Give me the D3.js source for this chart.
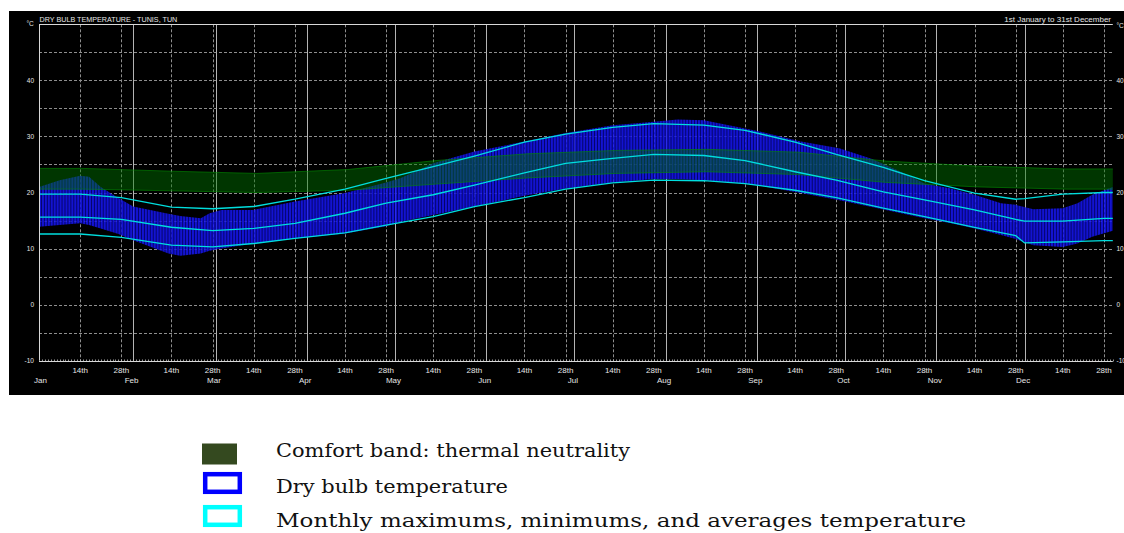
<!DOCTYPE html>
<html>
<head>
<meta charset="utf-8">
<script src="https://cdn.jsdelivr.net/npm/d3@7"></script>
<style>
  html, body { margin: 0; padding: 0; background: #ffffff; }
  svg { display: block; }
</style>
</head>
<body>
<svg id="chart" width="1124" height="533"></svg>
<script>
// ---- calendar ----
const monthNames  = ["Jan","Feb","Mar","Apr","May","Jun","Jul","Aug","Sep","Oct","Nov","Dec"];
const monthStarts = [0,31,59,90,120,151,181,212,243,273,304,334];   // days before each month
const dayMarks    = [14, 28];
const dayMarkLabels = ["14th", "28th"];
const tempLabels  = [-10, 0, 10, 20, 30, 40];
const tempGrid    = [-5, 0, 5, 10, 15, 20, 25, 30, 35, 40, 45];

// ---- comfort band (thermal neutrality), °C ----
const comfortDays = [0, 15, 45, 74, 105, 135, 166, 196, 227, 258, 288, 319, 349, 365];
const comfortLow  = [20.6, 20.6, 20.3, 20.0, 20.4, 21.5, 22.6, 23.4, 23.7, 23.2, 21.8, 21.0, 20.6, 20.6];
const comfortHigh = [24.3, 24.3, 23.8, 23.4, 24.1, 25.7, 26.9, 27.5, 27.7, 27.2, 25.6, 24.7, 24.2, 24.2];

// ---- dry bulb temperature, daily envelope, °C ----
const dryDays = [0, 7, 14, 17, 21, 27, 32, 44, 48, 55, 58, 62, 73, 87, 104, 118, 123, 134, 148, 165, 179,
                 195, 209, 217, 226, 240, 245, 259, 272, 283, 293, 301, 310, 318, 327, 332, 338, 348, 353, 358, 365];
const dryMax  = [21.0, 22.2, 23.0, 22.8, 21.0, 19.0, 17.5, 16.2, 15.8, 15.4, 16.3, 16.9, 16.9, 18.4, 19.9, 21.8, 22.6, 25.2, 27.3, 29.1, 30.6,
                 32.0, 32.6, 33.0, 32.9, 31.4, 30.9, 29.1, 27.9, 26.0, 23.7, 21.6, 20.7, 19.6, 18.1, 17.8, 17.0, 17.2, 18.1, 19.6, 21.0];
const dryMin  = [13.9, 14.2, 14.5, 14.2, 13.6, 12.6, 11.5, 9.1, 8.7, 9.1, 9.6, 10.0, 10.9, 11.8, 12.7, 14.0, 14.8, 16.0, 17.5, 19.4, 20.7,
                 21.8, 22.4, 22.4, 22.2, 21.6, 21.2, 19.9, 18.6, 17.4, 16.3, 15.4, 14.5, 13.6, 12.4, 11.7, 10.6, 10.3, 10.9, 12.1, 13.2];

// ---- monthly maximums, averages and minimums, °C ----
const statDays   = [0, 14, 28, 45, 59, 73, 87, 104, 118, 134, 148, 165, 179, 195, 209, 226, 240, 257, 271, 287, 301, 318, 332, 335, 348, 362, 365];
const monthlyMax = [19.7, 19.7, 19.1, 17.4, 17.1, 17.5, 18.8, 20.6, 22.5, 24.6, 26.5, 29.0, 30.4, 31.6, 32.3, 32.0, 31.1, 29.0, 26.8, 24.5, 22.1, 19.9, 18.8, 18.9, 19.7, 20.0, 20.0];
const monthlyAvg = [15.6, 15.6, 15.2, 13.8, 13.2, 13.6, 14.5, 16.3, 18.1, 19.6, 21.3, 23.5, 25.2, 26.1, 26.8, 26.6, 25.7, 23.7, 22.2, 20.1, 18.7, 16.9, 15.2, 14.9, 14.9, 15.4, 15.4];
const monthlyMin = [12.6, 12.6, 12.0, 10.6, 10.3, 10.9, 11.8, 12.8, 14.2, 15.7, 17.5, 19.1, 20.6, 21.7, 22.2, 22.1, 21.6, 20.4, 19.1, 17.2, 15.7, 13.8, 12.3, 11.0, 11.2, 11.4, 11.4];

// ---- text ----
const chartTitle = "DRY BULB TEMPERATURE - TUNIS, TUN";
const periodText = "1st January to 31st December";
const unitText   = "°C";
const legendItems = [
  { label: "Comfort band: thermal neutrality", kind: "fill",    color: "#34491f" },
  { label: "Dry bulb temperature",             kind: "outline", color: "#0000ff" },
  { label: "Monthly maximums, minimums, and averages temperature", kind: "outline", color: "#00ffff" }
];

// ---- layout ----
const svg = d3.select("#chart");
const x = d3.scaleLinear().domain([0, 365]).range([39, 1112.8]);
const y = d3.scaleLinear().domain([-10, 50]).range([360.7, 24.3]);
const crisp = v => Math.round(v) + 0.5;
const sans = "'Liberation Sans', Arial, sans-serif";

// dark panel
svg.append("rect").attr("x", 9).attr("y", 11).attr("width", 1115).attr("height", 384).attr("fill", "#000");

// daily stripes for the dry bulb band
const defs = svg.append("defs");
const step = x(1) - x(0);
const pat = defs.append("pattern").attr("id", "dailyStripes")
  .attr("patternUnits", "userSpaceOnUse").attr("x", x(0)).attr("y", 0)
  .attr("width", step).attr("height", 8);
pat.append("rect").attr("width", step).attr("height", 8).attr("fill", "#05057a");
pat.append("rect").attr("width", step * 0.66).attr("height", 8).attr("fill", "#1616f4");

// grid (drawn first; the translucent bands let it show through)
const grid = svg.append("g").attr("fill", "none");
grid.selectAll("line.h").data(tempGrid).join("line")
  .attr("x1", x(0)).attr("x2", x(365))
  .attr("y1", t => crisp(y(t))).attr("y2", t => crisp(y(t)))
  .attr("stroke", "#8e8e8e").attr("stroke-dasharray", "3,2");
const dayMarkRows = [];
monthStarts.forEach((s, m) => dayMarks.forEach((dm, j) => dayMarkRows.push({ d: s + dm, label: dayMarkLabels[j] })));
grid.selectAll("line.v").data(dayMarkRows).join("line")
  .attr("x1", r => crisp(x(r.d))).attr("x2", r => crisp(x(r.d)))
  .attr("y1", y(50)).attr("y2", y(-10))
  .attr("stroke", "#8e8e8e").attr("stroke-dasharray", "3,2");
grid.selectAll("line.m").data(monthStarts.slice(1)).join("line")
  .attr("x1", s => crisp(x(s + 1))).attr("x2", s => crisp(x(s + 1)))
  .attr("y1", y(50)).attr("y2", y(-10))
  .attr("stroke", "#b4b4b4");

const plot = svg.append("g");

// dry bulb envelope
const dryRows = dryDays.map((d, i) => ({ d, hi: dryMax[i], lo: dryMin[i] }));
plot.append("path").datum(dryRows)
  .attr("d", d3.area().x(r => x(r.d)).y0(r => y(r.lo)).y1(r => y(r.hi)))
  .attr("fill", "url(#dailyStripes)").attr("fill-opacity", 0.86);

// comfort band, translucent so the dry bulb band shows through
const comfortRows = comfortDays.map((d, i) => ({ d, lo: comfortLow[i], hi: comfortHigh[i] }));
plot.append("path").datum(comfortRows)
  .attr("d", d3.area().x(r => x(r.d)).y0(r => y(r.lo)).y1(r => y(r.hi)))
  .attr("fill", "rgb(0,120,0)").attr("fill-opacity", 0.45);
["lo", "hi"].forEach(k => {
  plot.append("path").datum(comfortRows)
    .attr("d", d3.line().x(r => x(r.d)).y(r => y(r[k])))
    .attr("fill", "none").attr("stroke", "rgb(0,140,0)").attr("stroke-opacity", 0.6).attr("stroke-width", 1);
});

// monthly statistic lines
const statLine = d3.line().x((v, i) => x(statDays[i])).y(v => y(v));
[monthlyMax, monthlyAvg, monthlyMin].forEach(series => {
  svg.append("path").datum(series)
    .attr("d", statLine)
    .attr("fill", "none").attr("stroke", "#00dede").attr("stroke-width", 1.3);
});

// frame: left axis, top edge and bottom axis
const frame = svg.append("g").attr("stroke", "#d8d8d8").attr("fill", "none");
frame.append("line").attr("x1", crisp(x(0))).attr("x2", crisp(x(0))).attr("y1", y(50)).attr("y2", y(-10));
frame.append("line").attr("x1", x(0)).attr("x2", x(365)).attr("y1", crisp(y(50))).attr("y2", crisp(y(50)));
frame.append("line").attr("x1", x(0)).attr("x2", x(365)).attr("y1", crisp(y(-10))).attr("y2", crisp(y(-10)));
frame.selectAll("line.t").data(d3.range(1, 366)).join("line")
  .attr("x1", d => Math.round(x(d)) + 0.5).attr("x2", d => Math.round(x(d)) + 0.5)
  .attr("y1", crisp(y(-10))).attr("y2", crisp(y(-10)) - 2)
  .attr("stroke-opacity", 0.7);

// temperature labels, both sides
const lbl = svg.append("g").attr("font-family", sans).attr("fill", "#e6e6e6");
lbl.selectAll("text.l").data(tempLabels).join("text")
  .attr("x", 34).attr("y", t => y(t) + 2.3)
  .attr("text-anchor", "end").attr("font-size", 6.5).text(t => t);
lbl.selectAll("text.r").data(tempLabels).join("text")
  .attr("x", 1116.5).attr("y", t => y(t) + 2.3)
  .attr("font-size", 6.5).text(t => t);
lbl.append("text").attr("x", 26.5).attr("y", 26).attr("font-size", 6.5).text(unitText);
lbl.append("text").attr("x", 1116.5).attr("y", 27.5).attr("font-size", 6.5).text(unitText);

// titles
lbl.append("text").attr("x", 39.5).attr("y", 22.2).attr("font-size", 7.2).text(chartTitle);
lbl.append("text").attr("x", 1111).attr("y", 22.2).attr("text-anchor", "end").attr("font-size", 8).text(periodText);

// day and month labels
lbl.selectAll("text.dm").data(dayMarkRows).join("text")
  .attr("x", r => x(r.d)).attr("y", 373)
  .attr("text-anchor", "middle").attr("font-size", 8).text(r => r.label);
lbl.selectAll("text.mn").data(monthNames).join("text")
  .attr("x", (m, i) => x(monthStarts[i] + 1) - 1.5).attr("y", 383)
  .attr("text-anchor", "middle").attr("font-size", 8).text(m => m);

// legend
const legend = svg.append("g");
const rowY = [454, 483, 516];
const textBase = [457, 492.5, 527];
const textWidth = [354, 232, 690];
legendItems.forEach((it, i) => {
  const cy = rowY[i];
  if (it.kind === "fill") {
    legend.append("rect").attr("x", 202).attr("y", cy - 10.5).attr("width", 35).attr("height", 21).attr("fill", it.color);
  } else {
    legend.append("rect").attr("x", 205.2).attr("y", cy - 8.8).attr("width", 34.6).attr("height", 17.6)
      .attr("fill", "#fff").attr("stroke", it.color).attr("stroke-width", 4.5);
  }
  legend.append("text").attr("x", 276).attr("y", textBase[i])
    .attr("font-family", "'DejaVu Serif', 'Liberation Serif', serif").attr("font-size", 19)
    .attr("textLength", textWidth[i]).attr("lengthAdjust", "spacingAndGlyphs")
    .attr("fill", "#111").text(it.label);
});
</script>
</body>
</html>
